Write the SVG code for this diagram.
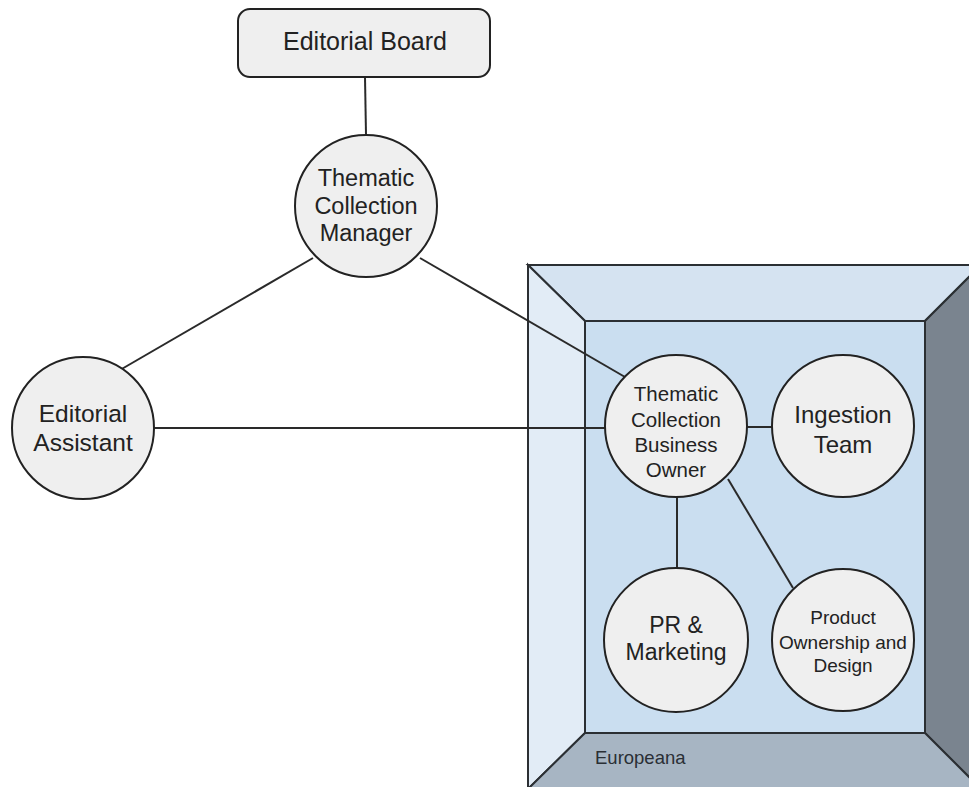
<svg xmlns="http://www.w3.org/2000/svg" width="969" height="787" viewBox="0 0 969 787">
<style>
.panel{stroke:#2b2f33;stroke-width:2;stroke-linejoin:miter}
.conn{stroke:#2a2a2a;stroke-width:2;fill:none}
.node{fill:#efefef;stroke:#222;stroke-width:2}
.lbl{font-family:"Liberation Sans",Arial,sans-serif;fill:#222;text-anchor:middle}
</style>
<rect width="969" height="787" fill="#ffffff"/>
<g id="europeana">
<polygon class="panel" points="528,265 981,265 925,321 585,321" fill="#d5e3f1"/>
<polygon class="panel" points="528,265 585,321 585,733 528,789" fill="#e2ecf6"/>
<polygon class="panel" points="981,265 981,789 925,733 925,321" fill="#7a848f"/>
<polygon class="panel" points="528,789 585,733 925,733 981,789" fill="#a7b5c3"/>
<rect class="panel" x="585" y="321" width="340" height="412" fill="#cadef0"/>
<text x="595" y="764" style="font-family:'Liberation Sans',Arial,sans-serif;font-size:18.5px;fill:#2a2f35">Europeana</text>
</g>
<g id="connectors">
<line class="conn" x1="365" y1="77" x2="366" y2="135"/>
<line class="conn" x1="313" y1="258" x2="120" y2="370"/>
<line class="conn" x1="420" y1="258" x2="625" y2="377"/>
<line class="conn" x1="154" y1="428" x2="605" y2="428"/>
<line class="conn" x1="747" y1="427" x2="772" y2="427"/>
<line class="conn" x1="677" y1="497" x2="677" y2="568"/>
<line class="conn" x1="728" y1="479" x2="793" y2="588"/>
</g>
<g id="editorial-board">
<rect class="node" x="238" y="9" width="252" height="68" rx="12"/>
<text class="lbl" x="365" y="50" style="font-size:25px">Editorial Board</text>
</g>
<g id="thematic-collection-manager">
<circle class="node" cx="366" cy="206" r="71"/>
<text class="lbl" style="font-size:23.5px"><tspan x="366" y="186">Thematic</tspan><tspan x="366" y="214">Collection</tspan><tspan x="366" y="241">Manager</tspan></text>
</g>
<g id="editorial-assistant">
<circle class="node" cx="83" cy="428" r="71"/>
<text class="lbl" style="font-size:24.5px"><tspan x="83" y="422">Editorial</tspan><tspan x="83" y="451">Assistant</tspan></text>
</g>
<g id="business-owner">
<circle class="node" cx="676" cy="426" r="71"/>
<text class="lbl" style="font-size:20.5px"><tspan x="676" y="401">Thematic</tspan><tspan x="676" y="427">Collection</tspan><tspan x="676" y="452">Business</tspan><tspan x="676" y="477">Owner</tspan></text>
</g>
<g id="ingestion-team">
<circle class="node" cx="843" cy="426" r="71"/>
<text class="lbl" style="font-size:24px"><tspan x="843" y="423">Ingestion</tspan><tspan x="843" y="453">Team</tspan></text>
</g>
<g id="pr-marketing">
<circle class="node" cx="676" cy="640" r="72"/>
<text class="lbl" style="font-size:23px"><tspan x="676" y="633">PR &amp;</tspan><tspan x="676" y="660">Marketing</tspan></text>
</g>
<g id="product-ownership">
<circle class="node" cx="843" cy="640" r="71"/>
<text class="lbl" style="font-size:19px"><tspan x="843" y="624">Product</tspan><tspan x="843" y="649">Ownership and</tspan><tspan x="843" y="672">Design</tspan></text>
</g>
</svg>
